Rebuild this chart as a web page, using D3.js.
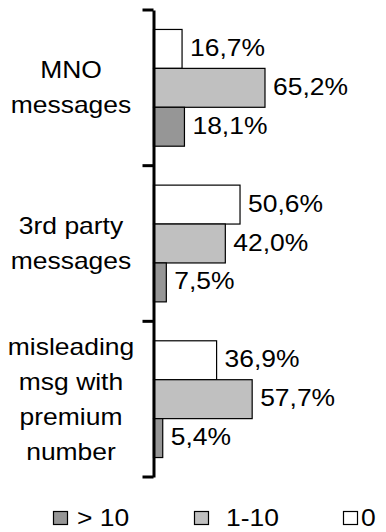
<!DOCTYPE html>
<html>
<head>
<meta charset="utf-8">
<script src="https://cdn.jsdelivr.net/npm/d3@7"></script>
<style>
  html, body { margin: 0; padding: 0; background: #fff; }
  svg { display: block; }
  text { font-family: "Liberation Sans", Arial, sans-serif; fill: #000; }
</style>
</head>
<body>
<svg id="chart" width="386" height="532"></svg>
<script>
// Categories (top to bottom) with their wrapped label lines
const categories = ["MNO messages", "3rd party messages", "misleading msg with premium number"];
const categoryLines = [
  ["MNO", "messages"],
  ["3rd party", "messages"],
  ["misleading", "msg with", "premium", "number"]
];

// Series, in the order they are stacked within each category (top to bottom)
const seriesNames = ["0", "1-10", "> 10"];
const valuesZero   = [16.7, 50.6, 36.9];
const valuesOneTen = [65.2, 42.0, 57.7];
const valuesOverTen = [18.1, 7.5, 5.4];

// Legend order
const legendOrder = ["> 10", "1-10", "0"];

const seriesValues = [valuesZero, valuesOneTen, valuesOverTen];
const seriesColor = { "0": "#ffffff", "1-10": "#c0c0c0", "> 10": "#969696" };

const fmt = v => d3.format(".1f")(v).replace(".", ",") + "%";

const svg = d3.select("#chart");
const FONT = 23, STRETCH = 1.15;

const x = d3.scaleLinear().domain([0, 100]).range([153.5, 324.5]);
const y = d3.scaleBand().domain(categories).range([10, 477]).padding(0);
const yInner = d3.scaleBand().domain(seriesNames).range([0, y.bandwidth()])
  .paddingInner(0).paddingOuter(0.5);

// Bars
const rows = [];
categories.forEach((c, i) => {
  seriesNames.forEach((s, j) => rows.push({ cat: c, series: s, value: seriesValues[j][i] }));
});

const g = svg.append("g");
g.selectAll("rect.bar").data(rows).join("rect")
  .attr("class", "bar")
  .attr("x", x(0))
  .attr("y", d => y(d.cat) + yInner(d.series))
  .attr("width", d => x(d.value) - x(0))
  .attr("height", yInner.bandwidth())
  .attr("fill", d => seriesColor[d.series])
  .attr("stroke", "#000")
  .attr("stroke-width", 1.2);

// Value labels
g.selectAll("text.val").data(rows).join("text")
  .attr("class", "val")
  .attr("transform", d => `translate(${x(d.value) + 8},${y(d.cat) + yInner(d.series) + yInner.bandwidth() / 2 + 7}) scale(${STRETCH},1)`)
  .style("font-size", FONT + "px")
  .text(d => fmt(d.value));

// Category axis: thick line with ticks between categories
const axis = d3.axisLeft(y).tickSize(0).tickFormat("");
const axisG = svg.append("g").attr("transform", `translate(${x(0)},0)`).call(axis);
axisG.select(".domain").attr("stroke", "#000").attr("stroke-width", 3);
const boundaries = categories.map(c => y(c)).concat([y.range()[1]]);
axisG.selectAll("line.sep").data(boundaries).join("line")
  .attr("class", "sep")
  .attr("x1", -11).attr("x2", 0)
  .attr("y1", d => d).attr("y2", d => d)
  .attr("stroke", "#000").attr("stroke-width", 3);

// Category labels
const LINE_H = 35;
categories.forEach((c, i) => {
  const lines = categoryLines[i];
  const cy = y(c) + y.bandwidth() / 2;
  const start = cy - (lines.length - 1) * LINE_H / 2 + 8;
  lines.forEach((ln, k) => {
    svg.append("text")
      .attr("transform", `translate(71,${start + k * LINE_H}) scale(${STRETCH},1)`)
      .attr("text-anchor", "middle")
      .style("font-size", FONT + "px")
      .text(ln);
  });
});

// Legend
const legendX = [53, 194, 343];
const legendTextGap = [10, 18, 4];
const lg = svg.append("g");
legendOrder.forEach((name, i) => {
  lg.append("rect")
    .attr("x", legendX[i] + 0.5).attr("y", 511.5)
    .attr("width", 14).attr("height", 13)
    .attr("fill", seriesColor[name])
    .attr("stroke", "#000").attr("stroke-width", 1.2);
  lg.append("text")
    .attr("transform", `translate(${legendX[i] + 14 + legendTextGap[i]},526) scale(${STRETCH},1)`)
    .style("font-size", FONT + "px")
    .text(name);
});
</script>
</body>
</html>
